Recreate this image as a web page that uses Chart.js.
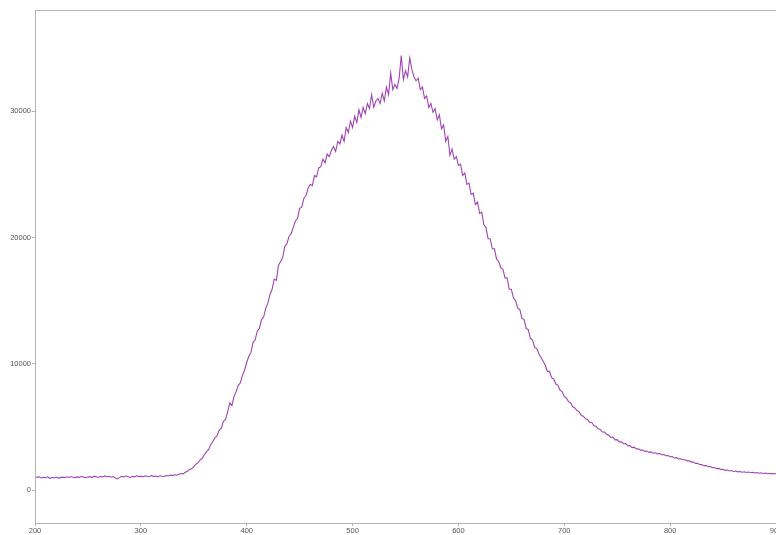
<!DOCTYPE html>
<html>
<head>
<meta charset="utf-8">
<script src="https://cdn.jsdelivr.net/npm/chart.js@4.4.1/dist/chart.umd.min.js"></script>
<style>
  html, body { margin: 0; padding: 0; background: #ffffff; }
  #wrap { position: relative; width: 776px; height: 535px; overflow: hidden; }
  canvas { display: block; }
</style>
</head>
<body>
<div id="wrap"><canvas id="spectrum" width="776" height="535"></canvas></div>
<script>
// Wavelength grid (nm)
const wavelengths = [
  200,202,204,206,208,210,212,214,216,218,
  220,222,224,226,228,230,232,234,236,238,
  240,242,244,246,248,250,252,254,256,258,
  260,262,264,266,268,270,272,274,276,278,
  280,282,284,286,288,290,292,294,296,298,
  300,302,304,306,308,310,312,314,316,318,
  320,322,324,326,328,330,332,334,336,338,
  340,342,344,346,348,350,352,354,356,358,
  360,362,364,366,368,370,372,374,376,378,
  380,382,384,386,388,390,392,394,396,398,
  400,402,404,406,408,410,412,414,416,418,
  420,422,424,426,428,430,432,434,436,438,
  440,442,444,446,448,450,452,454,456,458,
  460,462,464,466,468,470,472,474,476,478,
  480,482,484,486,488,490,492,494,496,498,
  500,502,504,506,508,510,512,514,516,518,
  520,522,524,526,528,530,532,534,536,538,
  540,542,544,546,548,550,552,554,556,558,
  560,562,564,566,568,570,572,574,576,578,
  580,582,584,586,588,590,592,594,596,598,
  600,602,604,606,608,610,612,614,616,618,
  620,622,624,626,628,630,632,634,636,638,
  640,642,644,646,648,650,652,654,656,658,
  660,662,664,666,668,670,672,674,676,678,
  680,682,684,686,688,690,692,694,696,698,
  700,702,704,706,708,710,712,714,716,718,
  720,722,724,726,728,730,732,734,736,738,
  740,742,744,746,748,750,752,754,756,758,
  760,762,764,766,768,770,772,774,776,778,
  780,782,784,786,788,790,792,794,796,798,
  800,802,804,806,808,810,812,814,816,818,
  820,822,824,826,828,830,832,834,836,838,
  840,842,844,846,848,850,852,854,856,858,
  860,862,864,866,868,870,872,874,876,878,
  880,882,884,886,888,890,892,894,896,898,
  900
];

// Measured intensity (counts) at each wavelength
const intensity = [
  1080,1010,1050,960,1020,990,1060,940,1000,970,
  1040,950,990,1030,980,1060,1000,1080,1020,990,
  1050,1010,1100,1030,980,1040,1070,1000,1110,1050,
  1020,1090,1040,1130,1060,1100,1020,1080,960,890,
  1010,1090,1040,1120,1060,1000,1090,1050,1140,1070,
  1110,1040,1130,1080,1060,1150,1090,1120,1050,1140,
  1100,1080,1160,1120,1190,1150,1220,1180,1260,1310,
  1290,1420,1500,1640,1700,1860,2050,2170,2400,2520,
  2800,3050,3200,3600,3850,4150,4300,4750,4900,5450,
  5600,6200,6900,6700,7400,7800,8300,8500,9100,9500,
  10100,10600,10900,11700,11900,12600,12800,13500,13700,14400,
  14800,15500,15900,16700,16600,17800,18100,18400,19300,19500,
  20100,20300,20800,21300,21500,22300,22400,23100,23300,23900,
  24200,24100,24900,24800,25500,25600,26200,25900,26600,26400,
  26900,27200,26800,27600,27400,28100,27600,28700,28300,29200,
  28700,29600,29100,30100,29500,30300,29800,30600,30200,31300,
  30300,30800,31000,30600,31400,30800,31900,31300,33000,31700,
  32100,31800,32600,34400,32500,33200,32700,34200,33300,32700,
  32400,32600,31700,31900,31000,31200,30300,30600,29900,30200,
  29300,29700,28600,28900,27600,28000,26500,27000,26200,26400,
  25700,25800,24900,25100,24200,24300,23400,23500,22600,22800,
  21900,22000,21000,20800,19900,19900,19100,19100,18300,18100,
  17600,17500,16800,16800,15900,15900,15200,15000,14400,14300,
  13600,13500,12800,12700,12000,11900,11300,11200,10800,10500,
  10200,9900,9400,9400,8900,8800,8400,8300,7900,7800,
  7400,7300,7000,6900,6600,6500,6300,6200,5900,5850,
  5650,5600,5350,5350,5100,5050,4850,4800,4600,4600,
  4420,4350,4180,4200,3980,4000,3820,3820,3670,3680,
  3520,3530,3370,3400,3270,3280,3170,3180,3070,3100,
  2990,3030,2920,2960,2870,2900,2800,2820,2720,2740,
  2640,2660,2550,2570,2470,2480,2400,2400,2320,2320,
  2220,2220,2120,2130,2020,2030,1940,1950,1850,1870,
  1770,1790,1700,1720,1630,1650,1570,1590,1520,1550,
  1480,1510,1450,1480,1420,1450,1400,1430,1380,1410,
  1360,1390,1340,1370,1320,1360,1300,1340,1290,1320,
  1300
];

// Axis tick labels
const xTicks = [200, 300, 400, 500, 600, 700, 800, 900];
const yTicks = [0, 10000, 20000, 30000];

const axisGray = '#b4b4b4';
const labelGray = '#555555';

// Frame around the plotting area
const frame = {
  id: 'frame',
  afterDraw(chart) {
    const { ctx, chartArea: a } = chart;
    ctx.save();
    ctx.strokeStyle = axisGray;
    ctx.lineWidth = 1;
    ctx.strokeRect(Math.round(a.left) + 0.5, Math.round(a.top) + 0.5,
                   Math.round(a.right - a.left), Math.round(a.bottom - a.top));
    ctx.restore();
  }
};

const points = wavelengths.map((w, i) => ({ x: w, y: intensity[i] }));

new Chart(document.getElementById('spectrum'), {
  type: 'line',
  data: {
    datasets: [{
      data: points,
      borderColor: '#a044b4',
      borderWidth: 1.1,
      pointRadius: 0,
      tension: 0,
      fill: false
    }]
  },
  options: {
    responsive: false,
    animation: false,
    layout: { padding: { top: 10, right: 0, bottom: 0, left: 0 } },
    plugins: { legend: { display: false }, tooltip: { enabled: false } },
    scales: {
      x: {
        type: 'linear',
        min: 200,
        max: 900,
        afterBuildTicks(scale) { scale.ticks = xTicks.map(v => ({ value: v })); },
        afterFit(scale) { scale.height = 12; scale.paddingLeft = 0; scale.paddingRight = 0; },
        grid: { display: true, drawOnChartArea: false, drawTicks: true, tickLength: 3, color: axisGray },
        border: { display: true, color: axisGray },
        ticks: {
          autoSkip: false,
          maxRotation: 0,
          padding: 0,
          color: labelGray,
          font: { family: 'Liberation Sans', size: 7.5 },
          callback: v => String(v)
        }
      },
      y: {
        type: 'linear',
        min: -2600,
        max: 38000,
        afterBuildTicks(scale) { scale.ticks = yTicks.map(v => ({ value: v })); },
        afterFit(scale) { scale.width = 35; scale.paddingTop = 0; scale.paddingBottom = 0; },
        grid: { display: true, drawOnChartArea: false, drawTicks: true, tickLength: 3, color: axisGray },
        border: { display: true, color: axisGray },
        ticks: {
          padding: 1,
          color: labelGray,
          font: { family: 'Liberation Sans', size: 7.5 },
          callback: v => String(v)
        }
      }
    }
  },
  plugins: [frame]
});
</script>
</body>
</html>
